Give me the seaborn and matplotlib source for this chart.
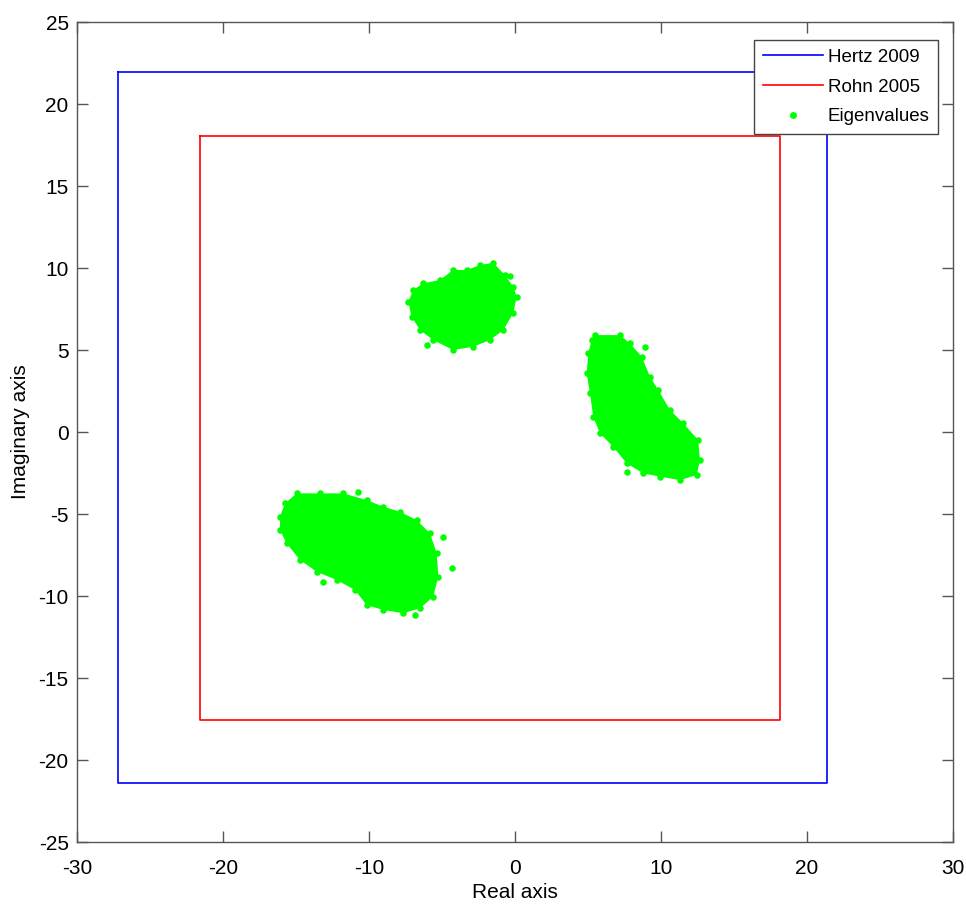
import numpy as np
import pandas as pd
import matplotlib
import matplotlib.pyplot as plt
import seaborn as sns
from matplotlib.lines import Line2D

matplotlib.use('Agg')

# bounding boxes (corners, closed loops)
hertz_x = [-27.2, 21.35, 21.35, -27.2, -27.2]
hertz_y = [21.95, 21.95, -21.4, -21.4, 21.95]
rohn_x = [-21.6, 18.15, 18.15, -21.6, -21.6]
rohn_y = [18.05, 18.05, -17.56, -17.56, 18.05]

# outlines of the three eigenvalue clouds
top_x = [-7.31, -6.97, -6.28, -5.14, -4.23, -3.31, -2.40, -1.49, -0.68, -0.12,
         0.12, -0.12, -0.80, -1.71, -2.86, -4.23, -5.60, -6.51, -7.08]
top_y = [7.95, 8.66, 9.07, 9.27, 9.88, 9.88, 10.18, 10.32, 9.57, 8.86,
         8.25, 7.24, 6.22, 5.61, 5.20, 5.00, 5.61, 6.22, 7.03]

right_x = [5.48, 7.19, 7.88, 8.68, 9.25, 9.82, 10.62, 11.53, 12.55, 12.67, 12.45,
           11.30, 9.93, 8.79, 7.65, 6.73, 5.82, 5.36, 5.14, 4.91, 5.02, 5.25]
right_y = [5.91, 5.91, 5.41, 4.59, 3.37, 2.56, 1.34, 0.53, -0.49, -1.71, -2.62,
           -2.93, -2.72, -2.52, -1.91, -0.90, -0.08, 0.93, 2.36, 3.58, 4.80, 5.61]

left_x = [-16.10, -15.75, -14.95, -13.36, -11.76, -10.16, -9.02, -7.88, -6.73, -5.82,
          -5.36, -5.25, -5.60, -6.51, -7.65, -9.02, -10.16, -10.96, -12.21, -13.58,
          -14.73, -15.64, -16.10]
left_y = [-5.16, -4.35, -3.74, -3.74, -3.74, -4.15, -4.55, -4.86, -5.37, -6.18,
          -7.40, -8.82, -10.04, -10.75, -11.05, -10.85, -10.55, -9.63, -9.02, -8.52,
          -7.80, -6.79, -5.98]

# stray points just outside the clouds
stray_x = [-4.91, -4.34, -10.73, -13.13, -6.85, -6.05, -0.34, 8.90, 7.65]
stray_y = [-6.38, -8.32, -3.64, -9.13, -11.16, 5.30, 9.51, 5.20, -2.42]

green = '#00ff00'
plt.rcParams['font.family'] = ['Liberation Sans', 'DejaVu Sans']
plt.rcParams['axes.unicode_minus'] = False

fig = plt.figure(figsize=(9.66, 9.11), dpi=100)
ax = fig.add_axes([0.0797, 0.0757, 0.9068, 0.9001])

sns.lineplot(x=hertz_x, y=hertz_y, sort=False, estimator=None, color='blue', lw=1.2, ax=ax)
sns.lineplot(x=rohn_x, y=rohn_y, sort=False, estimator=None, color='red', lw=1.2, ax=ax)

for cx, cy in [(top_x, top_y), (right_x, right_y), (left_x, left_y)]:
    ax.fill(cx, cy, color=green, lw=0, zorder=3)

pts = pd.DataFrame({'re': top_x + right_x + left_x + stray_x,
                    'im': top_y + right_y + left_y + stray_y})
sns.scatterplot(data=pts, x='re', y='im', color=green, s=22, linewidth=0, zorder=4, ax=ax)

ax.set_xlim(-30, 30)
ax.set_ylim(-25, 25)
ax.set_xticks(np.arange(-30, 31, 10))
ax.set_yticks(np.arange(-25, 26, 5))
ax.tick_params(direction='in', length=8, width=1, color='#555555', labelsize=15,
               top=True, right=True, pad=6)
ax.tick_params(axis='x', pad=12)
for sp in ax.spines.values():
    sp.set_color('#555555')
    sp.set_linewidth(1)
ax.set_xlabel('Real axis', fontsize=15, labelpad=4)
ax.set_ylabel('Imaginary axis', fontsize=15, labelpad=6)

handles = [Line2D([], [], color='blue', lw=1.2),
           Line2D([], [], color='red', lw=1.2),
           Line2D([], [], color=green, marker='o', ls='none', markersize=5, markeredgewidth=0)]
leg = ax.legend(handles, ['Hertz 2009', 'Rohn 2005', 'Eigenvalues'], loc='upper right',
                bbox_to_anchor=(0.983, 0.978), borderaxespad=0, fontsize=13.5,
                fancybox=False, framealpha=1, edgecolor='#444444', handlelength=3.2,
                handletextpad=0.27, labelspacing=0.68, borderpad=0.45)
leg.get_frame().set_linewidth(1)
leg.set_zorder(10)

plt.savefig('out.png', dpi=100)
plt.close()
